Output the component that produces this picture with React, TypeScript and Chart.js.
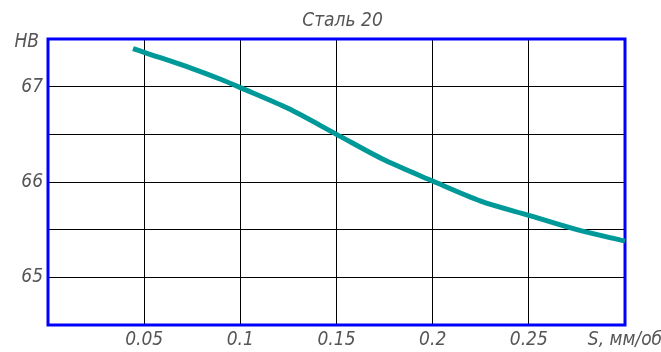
import React, { useEffect, useRef } from "react";
import { Chart, registerables } from "chart.js";

Chart.register(...registerables);

const feedS = [0.0442, 0.05, 0.075, 0.0894, 0.1, 0.125, 0.15, 0.175, 0.2, 0.225, 0.25, 0.275, 0.3];
const hardnessHB = [67.4, 67.36, 67.19, 67.08, 66.99, 66.77, 66.5, 66.23, 66.01, 65.8, 65.65, 65.5, 65.38];
const titleText = "Сталь 20";
const yAxisTitle = "HB";
const xAxisTitle = "S, мм/об";
const yTickLabels = [65, 66, 67];

const FONT = "'Liberation Sans Narrow', 'DejaVu Sans Condensed', 'Arial Narrow', sans-serif";
const TEXT_COLOR = "#555";

export default function App() {
  const ref = useRef<HTMLCanvasElement | null>(null);

  useEffect(() => {
    if (!ref.current) return;
    const decor = {
      id: "decor",
      beforeDatasetsDraw(chart: any) {
        const { ctx, chartArea } = chart;
        ctx.save();
        ctx.strokeStyle = "#0000ff";
        ctx.lineWidth = 3;
        ctx.strokeRect(chartArea.left, chartArea.top, chartArea.right - chartArea.left, chartArea.bottom - chartArea.top);
        ctx.restore();
      },
      afterDraw(chart: any) {
        const { ctx, chartArea } = chart;
        ctx.save();
        ctx.fillStyle = TEXT_COLOR;
        ctx.font = `italic 19px ${FONT}`;
        ctx.textBaseline = "middle";
        ctx.textAlign = "center";
        ctx.fillText(titleText, (chartArea.left + chartArea.right) / 2 + 6, 21);
        ctx.textAlign = "right";
        ctx.fillText(yAxisTitle, chartArea.left - 9, chartArea.top + 3);
        ctx.restore();
      },
    };

    const chart = new Chart(ref.current, {
      type: "line",
      data: {
        datasets: [
          {
            data: feedS.map((x, i) => ({ x, y: hardnessHB[i] })),
            borderColor: "#009999",
            borderWidth: 5,
            pointRadius: 0,
            tension: 0.3,
            fill: false,
            clip: false as any,
          },
        ],
      },
      options: {
        animation: false,
        responsive: false,
        maintainAspectRatio: false,
        layout: { padding: { left: 0, right: 36, top: 39, bottom: 0 } },
        plugins: { legend: { display: false }, tooltip: { enabled: false }, title: { display: false } },
        scales: {
          x: {
            type: "linear",
            min: 0,
            max: 0.3,
            border: { display: false },
            grid: { color: "#000", lineWidth: 1, drawTicks: false },
            afterFit: (s: any) => {
              s.height = 27;
              s.paddingLeft = 0;
              s.paddingRight = 0;
            },
            afterBuildTicks: (s: any) => {
              s.ticks = [0, 0.05, 0.1, 0.15, 0.2, 0.25, 0.3].map((v) => ({ value: v }));
            },
            ticks: {
              padding: 4,
              color: TEXT_COLOR,
              font: { family: FONT, size: 19, style: "italic" },
              maxRotation: 0,
              autoSkip: false,
              callback: (v: any) => {
                const n = Number(Number(v).toFixed(2));
                if (n === 0) return "";
                if (n === 0.3) return xAxisTitle;
                return String(n);
              },
            },
          },
          y: {
            type: "linear",
            min: 64.5,
            max: 67.5,
            border: { display: false },
            grid: { color: "#000", lineWidth: 1, drawTicks: false },
            afterFit: (s: any) => {
              s.width = 48;
              s.paddingTop = 0;
              s.paddingBottom = 0;
            },
            afterBuildTicks: (s: any) => {
              s.ticks = [64.5, 65, 65.5, 66, 66.5, 67, 67.5].map((v) => ({ value: v }));
            },
            ticks: {
              padding: 5,
              color: TEXT_COLOR,
              font: { family: FONT, size: 19, style: "italic" },
              autoSkip: false,
              callback: (v: any) => (yTickLabels.includes(Number(v)) ? String(v) : ""),
            },
          },
        },
      },
      plugins: [decor],
    } as any);
    return () => chart.destroy();
  }, []);

  return (
    <div style={{ position: "fixed", left: 0, top: 0, width: 661, height: 352, background: "#fff" }}>
      <canvas ref={ref} width={661} height={352} style={{ width: 661, height: 352, display: "block" }} />
    </div>
  );
}
